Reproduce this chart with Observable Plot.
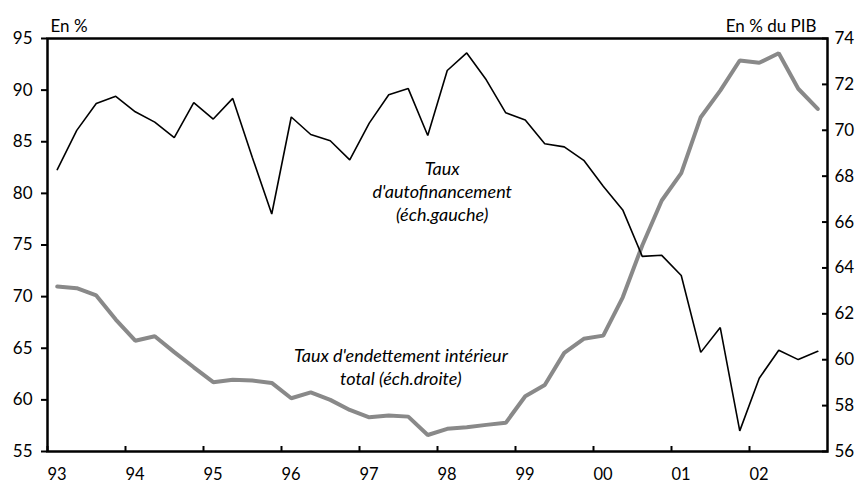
<!DOCTYPE html>
<html><head><meta charset="utf-8">
<script src="https://cdn.jsdelivr.net/npm/d3@7"></script>
<script src="https://cdn.jsdelivr.net/npm/@observablehq/plot@0.6"></script>
<style>body{margin:0;background:#fff}</style>
</head><body><div id="chart"></div>
<script>
// Quarterly data, 1993Q1 .. 2002Q4
const startYear = 1993;
const years = [1993,1994,1995,1996,1997,1998,1999,2000,2001,2002];
const yearLabels = ["93","94","95","96","97","98","99","00","01","02"];
// Taux d'autofinancement (left scale, %)
const autofinancement = [
  82.3, 86.1, 88.7, 89.4, 87.9, 86.9, 85.4, 88.8, 87.2, 89.2,
  83.5, 78.0, 87.4, 85.7, 85.1, 83.25, 86.8, 89.55, 90.15, 85.6,
  91.9, 93.6, 91.0, 87.8, 87.1, 84.8, 84.5, 83.2, 80.7, 78.4,
  73.9, 74.0, 72.05, 64.6, 67.0, 57.0, 62.1, 64.8, 63.9, 64.7
];
// Taux d'endettement intérieur total (right scale, % du PIB)
const endettement = [
  63.19, 63.12, 62.8, 61.75, 60.83, 61.02, 60.33, 59.67, 59.02, 59.13,
  59.09, 58.99, 58.32, 58.58, 58.25, 57.81, 57.49, 57.57, 57.52, 56.72,
  56.99, 57.06, 57.16, 57.25, 58.41, 58.9, 60.3, 60.91, 61.05, 62.72,
  64.98, 66.94, 68.13, 70.57, 71.73, 73.04, 72.94, 73.36, 71.81, 70.93
];
const leftTicks = [55,60,65,70,75,80,85,90,95];
const rightTicks = [56,58,60,62,64,66,68,70,72,74];
const leftDomain = [55,95];
const rightDomain = [56,74];
const unitLeft = "En %";
const unitRight = "En % du PIB";
const annotations = [
  {x: 1998.06, y: 80.3, text: "Taux\nd'autofinancement\n(éch.gauche)"},
  {x: 1997.53, y: 63.3, text: "Taux d'endettement intérieur\ntotal (éch.droite)"}
];

const toLeft = v => leftDomain[0] + (v - rightDomain[0]) * (leftDomain[1]-leftDomain[0]) / (rightDomain[1]-rightDomain[0]);
const fromLeft = v => rightDomain[0] + (v - leftDomain[0]) * (rightDomain[1]-rightDomain[0]) / (leftDomain[1]-leftDomain[0]);
const qx = i => startYear + (i + 0.5) / 4;

const autoData = autofinancement.map((v,i) => ({t: qx(i), v}));
const endData = endettement.map((v,i) => ({t: qx(i), v: toLeft(v)}));

const chart = Plot.plot({
  width: 864, height: 486,
  marginLeft: 47, marginRight: 37, marginTop: 38, marginBottom: 35,
  style: {fontFamily: "Lato, 'Open Sans', sans-serif", fontSize: "17px", color: "#000", background: "#fff"},
  x: {domain: [1993, 2003]},
  y: {domain: leftDomain},
  marks: [
    Plot.axisY({anchor: "left", ticks: leftTicks, tickSize: 6, tickPadding: 9, strokeWidth: 2, label: null, fontSize: 17}),
    Plot.axisY({anchor: "right", ticks: rightTicks.map(toLeft), tickFormat: d => String(Math.round(fromLeft(d))), tickSize: -6, tickPadding: 13, strokeWidth: 2, label: null, fontSize: 17}),
    Plot.axisX({anchor: "bottom", ticks: years, tickFormat: d => yearLabels[years.indexOf(d)], tickSize: -5, tickPadding: 22, strokeWidth: 2, textAnchor: "start", label: null, fontSize: 16.5}),
    Plot.line(endData, {x: "t", y: "v", stroke: "#898989", strokeWidth: 4, strokeLinejoin: "miter"}),
    Plot.line(autoData, {x: "t", y: "v", stroke: "#000", strokeWidth: 1.6, strokeLinejoin: "miter"}),
    Plot.frame({stroke: "#000", strokeWidth: 2.5}),
    Plot.text(annotations, {x: "x", y: "y", text: "text", fontStyle: "italic", fontSize: 18, lineHeight: 1.28, fill: "#000", textAnchor: "middle"}),
    Plot.text([unitLeft], {frameAnchor: "top-left", text: d => d, dx: 3, dy: -19, textAnchor: "start", fontSize: 17, fill: "#000"}),
    Plot.text([unitRight], {frameAnchor: "top-right", text: d => d, dx: -11, dy: -19, textAnchor: "end", fontSize: 17, fill: "#000"})
  ]
});
document.getElementById("chart").appendChild(chart);
</script>
</body></html>
